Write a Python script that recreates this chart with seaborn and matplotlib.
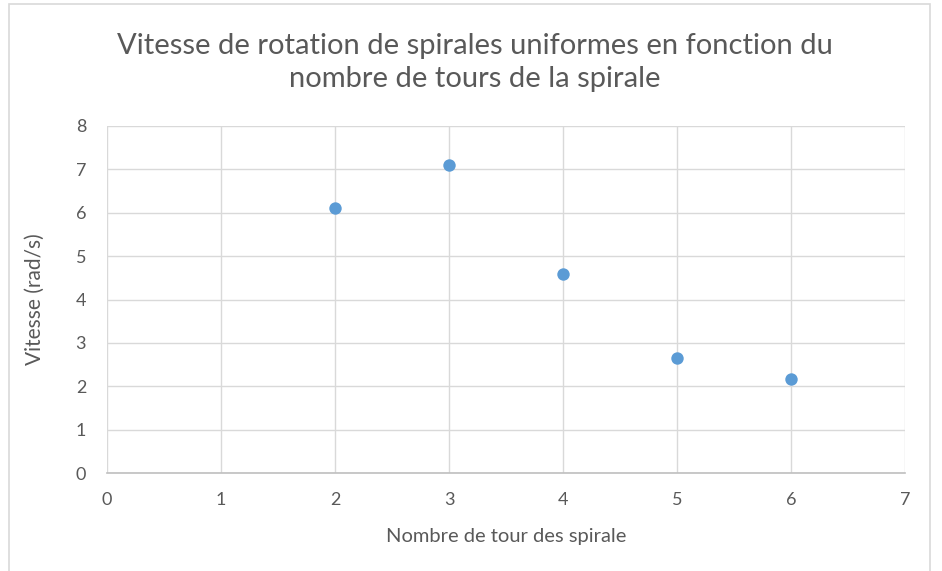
import matplotlib
matplotlib.use("Agg")
import matplotlib.pyplot as plt
import seaborn as sns
import pandas as pd
from matplotlib.patches import Rectangle

# Data
nb_tours = [2, 3, 4, 5, 6]
vitesse = [6.1, 7.1, 4.58, 2.65, 2.17]

df = pd.DataFrame({"tours": nb_tours, "vitesse": vitesse})

sns.set_theme(style="white")
plt.rcParams['font.family'] = ['Lato', 'DejaVu Sans']

fig = plt.figure(figsize=(9.42, 5.71), dpi=100)
ax = fig.add_axes([107/942, 1-473/571, (905-107)/942, (473-126)/571])

# outer chart frame
fig.patches.append(Rectangle((9/942, -0.01), (930-9)/942, 1-4/571+0.01,
                             transform=fig.transFigure, fill=False,
                             edgecolor='#d9d9d9', linewidth=1.2))

sns.scatterplot(data=df, x="tours", y="vitesse", ax=ax, color="#5b9bd5",
                s=80, edgecolor="#5b9bd5", linewidth=0, zorder=3)

ax.set_xlim(0, 7)
ax.set_ylim(0, 8)
ax.set_xticks(range(0, 8))
ax.set_yticks(range(0, 9))
ax.grid(True, color='#d9d9d9', linewidth=1)
ax.set_axisbelow(True)
for side in ['top', 'right', 'left']:
    ax.spines[side].set_visible(False)
ax.spines['bottom'].set_color('#bfbfbf')
ax.spines['bottom'].set_linewidth(1.2)
ax.tick_params(axis='x', length=0, labelsize=13, labelcolor='#595959', pad=14)
ax.tick_params(axis='y', length=0, labelsize=13, labelcolor='#595959', pad=15)

ax.set_xlabel("Nombre de tour des spirale", fontsize=14.5, color='#595959', labelpad=14)
ax.set_ylabel("Vitesse (rad/s)", fontsize=15, color='#595959', labelpad=22)

fig.text(0.504, 0.891, "Vitesse de rotation de spirales uniformes en fonction du\nnombre de tours de la spirale",
         ha='center', va='center', fontsize=21, color='#595959', linespacing=1.35)

fig.savefig("out.png", dpi=100)
